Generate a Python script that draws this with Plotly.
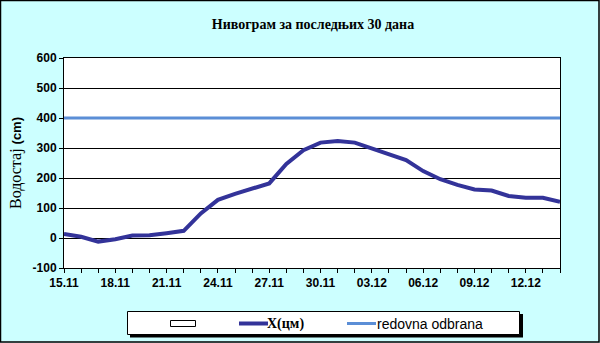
import plotly.graph_objects as go

dates = ["15.11", "16.11", "17.11", "18.11", "19.11", "20.11", "21.11", "22.11", "23.11", "24.11",
         "25.11", "26.11", "27.11", "28.11", "29.11", "30.11", "01.12", "02.12", "03.12", "04.12",
         "05.12", "06.12", "07.12", "08.12", "09.12", "10.12", "11.12", "12.12", "13.12", "14.12"]
level = [13, 4, -12, -4, 8, 9, 16, 24, 82, 127,
         147, 166, 182, 247, 293, 318, 323, 318, 299, 282,
         260, 223, 196, 177, 162, 158, 140, 134, 134, 121]
redovna = [400] * len(dates)
ytick_vals = [-100, 0, 100, 200, 300, 400, 500, 600]
series_names = ["X(цм)", "redovna odbrana"]
series_colors = ["#333399", "#5B8ED6"]
series_widths = [4, 3]

idx = list(range(len(dates)))
label_idx = idx[::3]

W, H = 600, 343
L, R, T, B = 64, 40, 58, 75
pw, ph = W - L - R, H - T - B

def px_x(x):
    return (x - L) / pw

def px_y(y):
    return (H - B - y) / ph

fig = go.Figure()
fig.add_trace(go.Scatter(x=idx, y=level, mode="lines", name=series_names[0],
                         line=dict(color=series_colors[0], width=series_widths[0])))
fig.add_trace(go.Scatter(x=idx, y=redovna, mode="lines", name=series_names[1],
                         line=dict(color=series_colors[1], width=series_widths[1])))

def rect(x0, y0, x1, y1, **kw):
    fig.add_shape(type="rect", xref="paper", yref="paper",
                  x0=px_x(x0), x1=px_x(x1), y0=px_y(y1), y1=px_y(y0), layer="above", **kw)

def hline(x0, x1, y, color, width):
    fig.add_shape(type="line", xref="paper", yref="paper",
                  x0=px_x(x0), x1=px_x(x1), y0=px_y(y), y1=px_y(y), layer="above",
                  line=dict(color=color, width=width))

# legend (drawn box with shadow)
rect(130, 314, 523, 337.5, fillcolor="black", line=dict(width=0))
rect(127.5, 311.5, 519.5, 334.5, fillcolor="white", line=dict(color="black", width=1))
rect(170.5, 320.5, 195.5, 326.5, fillcolor="white", line=dict(color="black", width=1))
hline(239, 268, 323.5, series_colors[0], series_widths[0])
hline(347, 376, 323.5, series_colors[1], series_widths[1])
fig.add_annotation(xref="paper", yref="paper", x=px_x(266), y=px_y(323.5), xanchor="left",
                   yanchor="middle", showarrow=False, borderpad=0,
                   text="<b>%s</b>" % series_names[0],
                   font=dict(family="Liberation Serif", size=14, color="black"))
fig.add_annotation(xref="paper", yref="paper", x=px_x(376), y=px_y(323.5), xanchor="left",
                   yanchor="middle", showarrow=False, borderpad=0,
                   text=series_names[1],
                   font=dict(family="Liberation Sans", size=14, color="black"))

# outer border
rect(0.5, 0.5, 599, 342, line=dict(color="black", width=1.5))

fig.update_layout(
    width=W, height=H,
    margin=dict(l=L, r=R, t=T, b=B, autoexpand=False),
    paper_bgcolor="#CCFFFF",
    plot_bgcolor="white",
    title=dict(text="<b>Нивограм за последњих 30 дана</b>",
               font=dict(family="Liberation Serif", size=14, color="black"),
               x=px_x(313), xref="paper", xanchor="center", y=1 - 24 / H, yanchor="middle"),
    showlegend=False,
)

fig.update_xaxes(
    range=[0, len(dates) - 1], tickmode="array", tickvals=label_idx,
    ticktext=["<b>%s</b>" % dates[i] for i in label_idx],
    ticks="outside", ticklen=4, tickcolor="black",
    minor=dict(dtick=1, tick0=0, ticks="outside", ticklen=4, tickcolor="black", showgrid=False),
    showgrid=False, showline=True, linecolor="black", linewidth=1, mirror=True,
    tickfont=dict(family="Liberation Sans", size=12, color="black"),
    zeroline=False,
)
fig.update_yaxes(
    range=[-100, 600], tickmode="array", tickvals=ytick_vals,
    ticktext=["<b>%d</b>" % v for v in ytick_vals],
    ticks="outside", ticklen=4, tickcolor="black",
    showgrid=True, gridcolor="black", gridwidth=1,
    showline=True, linecolor="black", linewidth=1, mirror=True,
    tickfont=dict(family="Liberation Sans", size=12, color="black"),
    zeroline=False,
    title=dict(text='Водостај <span style="font-family:Liberation Sans;font-size:13px"><b>(cm)</b></span>',
               font=dict(family="Liberation Serif", size=16, color="black"),
               standoff=6),
)

fig.write_html("out.html")
